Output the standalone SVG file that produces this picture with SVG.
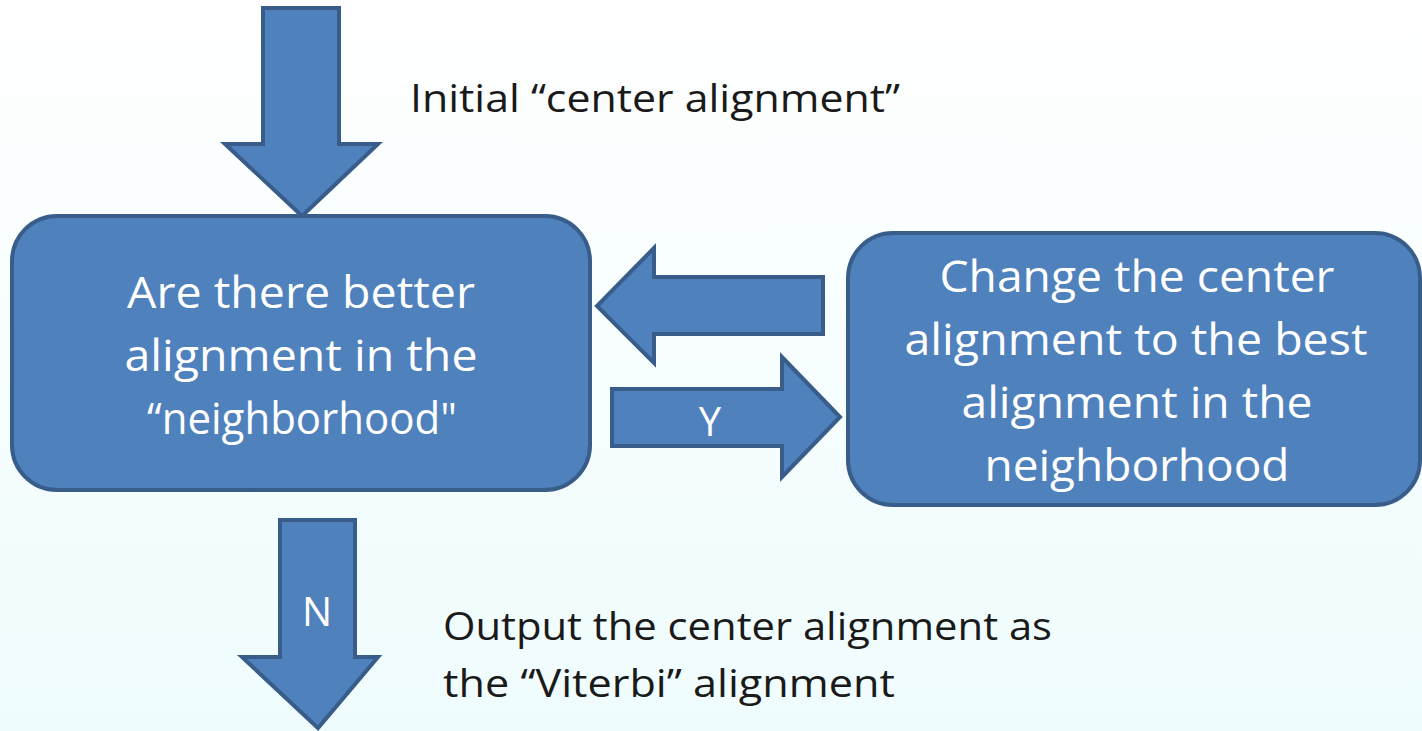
<svg xmlns="http://www.w3.org/2000/svg" width="1422" height="731" viewBox="0 0 1422 731">
<defs>
<linearGradient id="bg" x1="0" y1="0" x2="0" y2="1">
<stop offset="0" stop-color="#ffffff"/>
<stop offset="1" stop-color="#effcfd"/>
</linearGradient>
<style>
.shape{fill:#4f81bd;stroke:#385d8a;stroke-width:4;stroke-linejoin:miter}
.wt{fill:#ffffff;font-family:"Open Sans","Noto Sans",sans-serif;font-size:43px;text-anchor:middle}
.lbl{fill:#ffffff;font-family:"Open Sans","Noto Sans",sans-serif;font-size:40px;text-anchor:middle}
.dk{fill:#1a1a1a;font-family:"Open Sans","Noto Sans",sans-serif;font-size:38px}
</style>
</defs>
<rect width="1422" height="731" fill="url(#bg)"/>
<g id="connectors">
<polygon class="shape" points="263,8 339,8 339,144 378,144 302,216 225,144 263,144"/>
<polygon class="shape" points="823,277 823,334 654,334 654,363 597,306 654,248 654,277"/>
<polygon class="shape" points="612,389 782,389 782,357 840,417 782,477 782,446 612,446"/>
<polygon class="shape" points="280,520 355,520 355,657 378,657 318,728 242,657 280,657"/>
<text class="lbl" x="710" y="436">Y</text>
<text class="lbl" x="317" y="626">N</text>
</g>
<g id="start-label">
<text class="dk" x="410" y="112" textLength="490" lengthAdjust="spacingAndGlyphs">Initial “center alignment”</text>
</g>
<g id="check">
<rect class="shape" x="12" y="216" width="578" height="274" rx="45"/>
<text class="wt" x="301" y="308" textLength="348" lengthAdjust="spacingAndGlyphs">Are there better</text>
<text class="wt" x="301" y="371" textLength="353" lengthAdjust="spacingAndGlyphs">alignment in the</text>
<text class="wt" x="302" y="434" textLength="310" lengthAdjust="spacingAndGlyphs">“neighborhood"</text>
</g>
<g id="change">
<rect class="shape" x="848" y="233" width="572" height="272" rx="45"/>
<text class="wt" x="1137" y="292" textLength="395" lengthAdjust="spacingAndGlyphs">Change the center</text>
<text class="wt" x="1136" y="355" textLength="463" lengthAdjust="spacingAndGlyphs">alignment to the best</text>
<text class="wt" x="1137" y="418" textLength="351" lengthAdjust="spacingAndGlyphs">alignment in the</text>
<text class="wt" x="1137" y="481" textLength="305" lengthAdjust="spacingAndGlyphs">neighborhood</text>
</g>
<g id="output-label">
<text class="dk" x="443" y="640" textLength="609" lengthAdjust="spacingAndGlyphs">Output the center alignment as</text>
<text class="dk" x="443" y="697" textLength="452" lengthAdjust="spacingAndGlyphs">the “Viterbi” alignment</text>
</g>
</svg>
